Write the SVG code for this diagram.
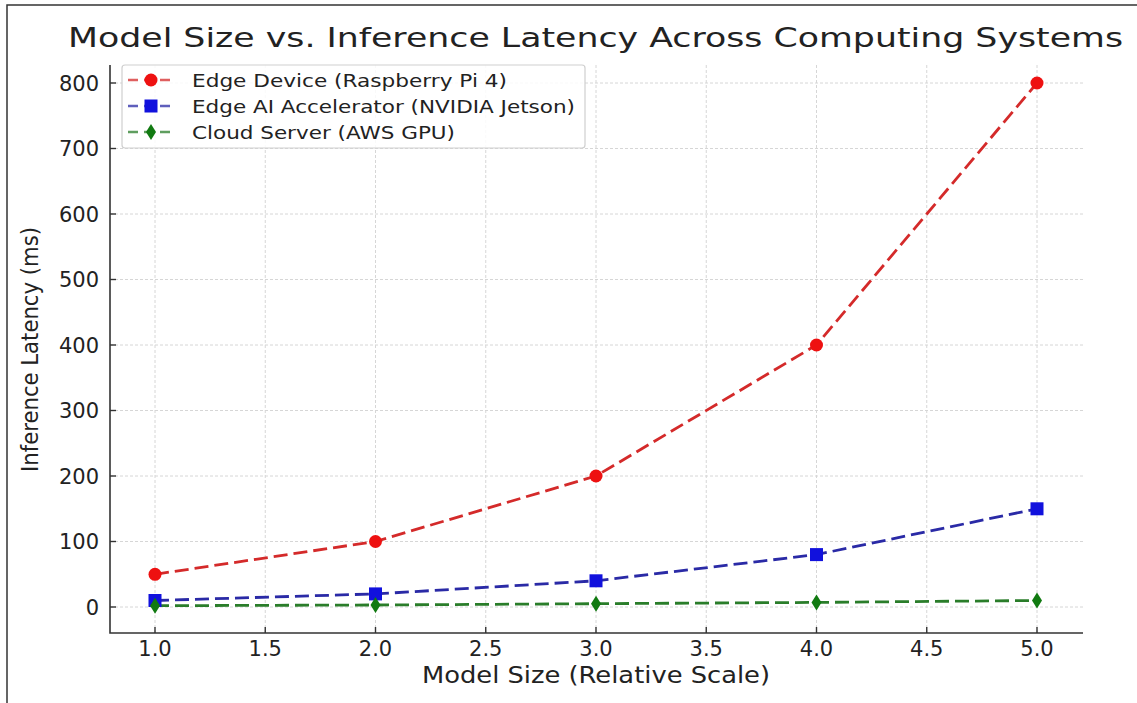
<svg xmlns="http://www.w3.org/2000/svg" width="1137" height="703" viewBox="0 0 1137 703">
  <style>
    text { font-family: "DejaVu Sans", "Liberation Sans", sans-serif; fill: #222; }
    .tick { font-size: 21px; }
    .ytick { text-anchor: end; }
    .xtick { text-anchor: middle; }
    .grid line { stroke: #d6d6d6; stroke-width: 1; stroke-dasharray: 3 2; }
    .spine { stroke: #333; stroke-width: 1.6; fill: none; }
    .tickmark { stroke: #333; stroke-width: 1.4; }
    .series { fill: none; stroke-width: 2.8; stroke-dasharray: 14 6; }
    .red-line { stroke: #d42a2a; }
    .blue-line { stroke: #2a2aa6; }
    .green-line { stroke: #2a7d2a; }
    .legend-line { stroke-width: 2.6; stroke-dasharray: 10 6; stroke-opacity: 0.75; }
    .red-mk { fill: #ee1111; }
    .blue-mk { fill: #1111dd; }
    .green-mk { fill: #117a11; }
    .legend-text { font-size: 18px; }
  </style>
  <defs>
    <circle id="mk-circle" r="6.5"/>
    <rect id="mk-square" x="-6.5" y="-6.5" width="13" height="13"/>
    <polygon id="mk-diamond" points="0,-8 5,0 0,8 -5,0"/>
  </defs>

  <!-- outer frame -->
  <path d="M7,703 V5 H1137" fill="none" stroke="#333" stroke-width="1.5"/>

  <!-- title -->
  <text x="68" y="47" font-size="27" textLength="1055" lengthAdjust="spacingAndGlyphs">Model Size vs. Inference Latency Across Computing Systems</text>

  <!-- grid -->
  <g class="grid">
    <line x1="155" y1="65" x2="155" y2="633"/>
    <line x1="265.25" y1="65" x2="265.25" y2="633"/>
    <line x1="375.5" y1="65" x2="375.5" y2="633"/>
    <line x1="485.75" y1="65" x2="485.75" y2="633"/>
    <line x1="596" y1="65" x2="596" y2="633"/>
    <line x1="706.25" y1="65" x2="706.25" y2="633"/>
    <line x1="816.5" y1="65" x2="816.5" y2="633"/>
    <line x1="926.75" y1="65" x2="926.75" y2="633"/>
    <line x1="1037" y1="65" x2="1037" y2="633"/>
    <line x1="110" y1="607" x2="1083" y2="607"/>
    <line x1="110" y1="541.5" x2="1083" y2="541.5"/>
    <line x1="110" y1="476" x2="1083" y2="476"/>
    <line x1="110" y1="410.5" x2="1083" y2="410.5"/>
    <line x1="110" y1="345" x2="1083" y2="345"/>
    <line x1="110" y1="279.5" x2="1083" y2="279.5"/>
    <line x1="110" y1="214" x2="1083" y2="214"/>
    <line x1="110" y1="148.5" x2="1083" y2="148.5"/>
    <line x1="110" y1="83" x2="1083" y2="83"/>
  </g>

  <!-- axes -->
  <g id="axes">
    <path class="spine" d="M110,65 V633 H1083"/>
    <g class="tickmark">
      <line x1="155" y1="633" x2="155" y2="627"/>
      <line x1="265.25" y1="633" x2="265.25" y2="627"/>
      <line x1="375.5" y1="633" x2="375.5" y2="627"/>
      <line x1="485.75" y1="633" x2="485.75" y2="627"/>
      <line x1="596" y1="633" x2="596" y2="627"/>
      <line x1="706.25" y1="633" x2="706.25" y2="627"/>
      <line x1="816.5" y1="633" x2="816.5" y2="627"/>
      <line x1="926.75" y1="633" x2="926.75" y2="627"/>
      <line x1="1037" y1="633" x2="1037" y2="627"/>
      <line x1="110" y1="607" x2="116" y2="607"/>
      <line x1="110" y1="541.5" x2="116" y2="541.5"/>
      <line x1="110" y1="476" x2="116" y2="476"/>
      <line x1="110" y1="410.5" x2="116" y2="410.5"/>
      <line x1="110" y1="345" x2="116" y2="345"/>
      <line x1="110" y1="279.5" x2="116" y2="279.5"/>
      <line x1="110" y1="214" x2="116" y2="214"/>
      <line x1="110" y1="148.5" x2="116" y2="148.5"/>
      <line x1="110" y1="83" x2="116" y2="83"/>
    </g>
    <g class="tick ytick">
      <text x="99" y="614.5">0</text>
      <text x="99" y="549">100</text>
      <text x="99" y="483.5">200</text>
      <text x="99" y="418">300</text>
      <text x="99" y="352.5">400</text>
      <text x="99" y="287">500</text>
      <text x="99" y="221.5">600</text>
      <text x="99" y="156">700</text>
      <text x="99" y="90.5">800</text>
    </g>
    <g class="tick xtick">
      <text x="155" y="656">1.0</text>
      <text x="265.25" y="656">1.5</text>
      <text x="375.5" y="656">2.0</text>
      <text x="485.75" y="656">2.5</text>
      <text x="596" y="656">3.0</text>
      <text x="706.25" y="656">3.5</text>
      <text x="816.5" y="656">4.0</text>
      <text x="926.75" y="656">4.5</text>
      <text x="1037" y="656">5.0</text>
    </g>
    <text x="422" y="683" font-size="23" textLength="348" lengthAdjust="spacingAndGlyphs">Model Size (Relative Scale)</text>
    <text transform="translate(38,350) rotate(-90)" x="-122" y="0" font-size="23" textLength="245" lengthAdjust="spacingAndGlyphs">Inference Latency (ms)</text>
  </g>

  <!-- data series -->
  <g id="connectors">
    <polyline class="series green-line" points="155,605.7 375.5,605 596,603.7 816.5,602.4 1037,600.5"/>
    <polyline class="series blue-line" points="155,600.5 375.5,593.9 596,580.8 816.5,554.6 1037,508.8"/>
    <polyline class="series red-line" points="155,574.3 375.5,541.5 596,476 816.5,345 1037,83"/>
  </g>

  <g id="edge-device-points" class="red-mk">
    <use href="#mk-circle" x="155" y="574.3"/>
    <use href="#mk-circle" x="375.5" y="541.5"/>
    <use href="#mk-circle" x="596" y="476"/>
    <use href="#mk-circle" x="816.5" y="345"/>
    <use href="#mk-circle" x="1037" y="83"/>
  </g>
  <g id="edge-ai-points" class="blue-mk">
    <use href="#mk-square" x="155" y="600.5"/>
    <use href="#mk-square" x="375.5" y="593.9"/>
    <use href="#mk-square" x="596" y="580.8"/>
    <use href="#mk-square" x="816.5" y="554.6"/>
    <use href="#mk-square" x="1037" y="508.8"/>
  </g>
  <g id="cloud-points" class="green-mk">
    <use href="#mk-diamond" x="155" y="605.7"/>
    <use href="#mk-diamond" x="375.5" y="605"/>
    <use href="#mk-diamond" x="596" y="603.7"/>
    <use href="#mk-diamond" x="816.5" y="602.4"/>
    <use href="#mk-diamond" x="1037" y="600.5"/>
  </g>

  <!-- legend -->
  <g id="legend">
    <rect x="122" y="65" width="463" height="83" rx="3" fill="#fff" fill-opacity="0.85" stroke="#cfcfcf" stroke-width="1.2"/>
    <line class="legend-line red-line" x1="128" y1="80" x2="174" y2="80"/>
    <use href="#mk-circle" class="red-mk" x="151" y="80"/>
    <text class="legend-text" x="192" y="86.5" textLength="315" lengthAdjust="spacingAndGlyphs">Edge Device (Raspberry Pi 4)</text>
    <line class="legend-line blue-line" x1="128" y1="106" x2="174" y2="106"/>
    <use href="#mk-square" class="blue-mk" x="151" y="106"/>
    <text class="legend-text" x="192" y="112.5" textLength="383" lengthAdjust="spacingAndGlyphs">Edge AI Accelerator (NVIDIA Jetson)</text>
    <line class="legend-line green-line" x1="128" y1="132" x2="174" y2="132"/>
    <use href="#mk-diamond" class="green-mk" x="151" y="132"/>
    <text class="legend-text" x="192" y="138.5" textLength="263" lengthAdjust="spacingAndGlyphs">Cloud Server (AWS GPU)</text>
  </g>
</svg>
